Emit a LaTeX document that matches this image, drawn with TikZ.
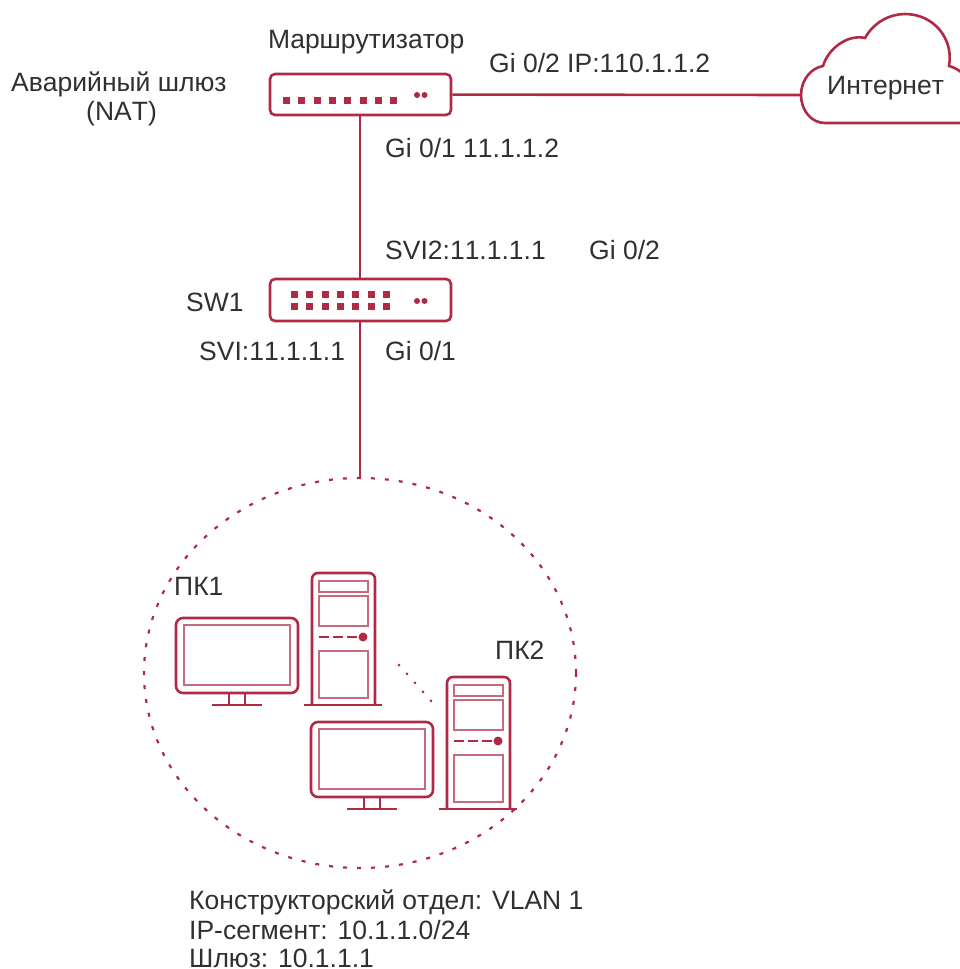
\documentclass[tikz,border=0pt]{standalone}
\usepackage{fontspec}
\setmainfont{Liberation Sans}[Kerning=Off]
\definecolor{rd}{HTML}{B02A45}
\definecolor{rdl}{HTML}{C9697D}
\definecolor{tx}{HTML}{303030}
\tikzset{
  lbl/.style={text=tx,inner sep=0pt,font=\fontsize{26.5}{30}\selectfont,anchor=base west},
  dev/.style={draw=rd,line width=2.6pt,rounded corners=5pt,fill=white},
  wire/.style={draw=rd,line width=2.6pt},
  frame/.style={draw=rd,line width=2.6pt},
  thin/.style={draw=rdl,line width=2.4pt},
  sq/.style={fill=rd,draw=none},
  pip/.style={fill=rd,draw=none},
}
\newcommand{\pcset}[2]{%
 \begin{scope}[shift={(#1,#2)}]
  \draw[frame,rounded corners=7pt] (176,618) rectangle (298,693);
  \draw[thin] (184,625) rectangle (290,685);
  \draw[frame] (229,693) -- (229,705) (245,693) -- (245,705);
  \draw[frame] (212,705) -- (262,705);
  \draw[frame,rounded corners=6pt] (312,705) -- (312,573) -- (375,573) -- (375,705);
  \draw[frame] (304,705) -- (382,705);
  \draw[thin] (319,581) rectangle (368,592);
  \draw[thin] (319,596) rectangle (368,626);
  \draw[thin] (319,651) rectangle (368,698);
  \draw[rd,line width=2.2pt,dash pattern=on 10pt off 4pt] (319,637) -- (358,637);
  \fill[rd] (363,637) circle (4.5);
 \end{scope}}
\begin{document}
\begin{tikzpicture}[x=1pt,y=-1pt]
\useasboundingbox (0,0) rectangle (960,969);
% cloud
\coordinate (cloudin) at (802,95);
\draw[rd,line width=2.6pt,fill=white] (961,123) -- (825,123)
  .. controls (811,123) and (801,110) .. (801,95)
  .. controls (801,80) and (811,68) .. (823,66)
  .. controls (828,49) and (847,34) .. (865,38)
  .. controls (874,22) and (890,14) .. (905,14)
  .. controls (933,14) and (954,38) .. (949,66)
  .. controls (953,67) and (957,69) .. (961,72);
% devices
\node[dev,minimum width=181pt,minimum height=41pt,inner sep=0pt] (router) at (360.5,94.5) {};
\node[dev,minimum width=181pt,minimum height=42pt,inner sep=0pt] (sw) at (360.5,300) {};
\coordinate (lan) at (360,478);
\draw[wire] (router) -- (cloudin);
\draw[wire] (router.south -| lan) -- (sw.north -| lan);
\draw[wire] (sw.south -| lan) -- (lan);
\foreach \i in {0,...,7} \fill[sq] ({283+15.3*\i},97) rectangle ++(7,7);
\foreach \i in {0,...,6} {\fill[sq] ({291+15.3*\i},291) rectangle ++(7,7);
  \fill[sq] ({291+15.3*\i},303) rectangle ++(7,7);}
\fill[pip] (417,95) circle (3) (424.5,95) circle (3) (417,301) circle (3) (424.5,301) circle (3);
% lan ring
\draw[rd,line width=2.2pt,dash pattern=on 4pt off 10pt] (360,673) ellipse (216 and 195);
\pcset{0}{0}
\pcset{135}{104}
\coordinate (da) at (399,665);
\coordinate (db) at (431,701);
\draw[rd,line width=3pt,line cap=round,dash pattern=on 0pt off 12pt] (da) -- (db);
% labels
\node[lbl] (t1) at (268,48) {Маршрутизатор};
\node[lbl] (t2) at (11,91) {Аварийный шлюз};
\node[lbl] (t3) at (86,120) {(NAT)};
\node[lbl] (t4) at (489,72) {Gi 0/2 IP:110.1.1.2};
\node[lbl] (t5) at (827,94) {Интернет};
\node[lbl] (t6) at (385,157) {Gi 0/1 11.1.1.2};
\node[lbl] (t7) at (385,259) {SVI2:11.1.1.1};
\node[lbl] (t8) at (589,259) {Gi 0/2};
\node[lbl] (t9) at (186,311) {SW1};
\node[lbl] (t10) at (199,360) {SVI:11.1.1.1};
\node[lbl] (t11) at (385,360) {Gi 0/1};
\node[lbl] (t12) at (174,595) {ПК1};
\node[lbl] (t13) at (495,659) {ПК2};
\node[lbl] (t14) at (189,909) {Конструкторский отдел: VLAN 1};
\node[lbl] (t15) at (189,939) {IP-сегмент: 10.1.1.0/24};
\node[lbl] (t16) at (189,967) {Шлюз: 10.1.1.1};
\end{tikzpicture}
\end{document}
